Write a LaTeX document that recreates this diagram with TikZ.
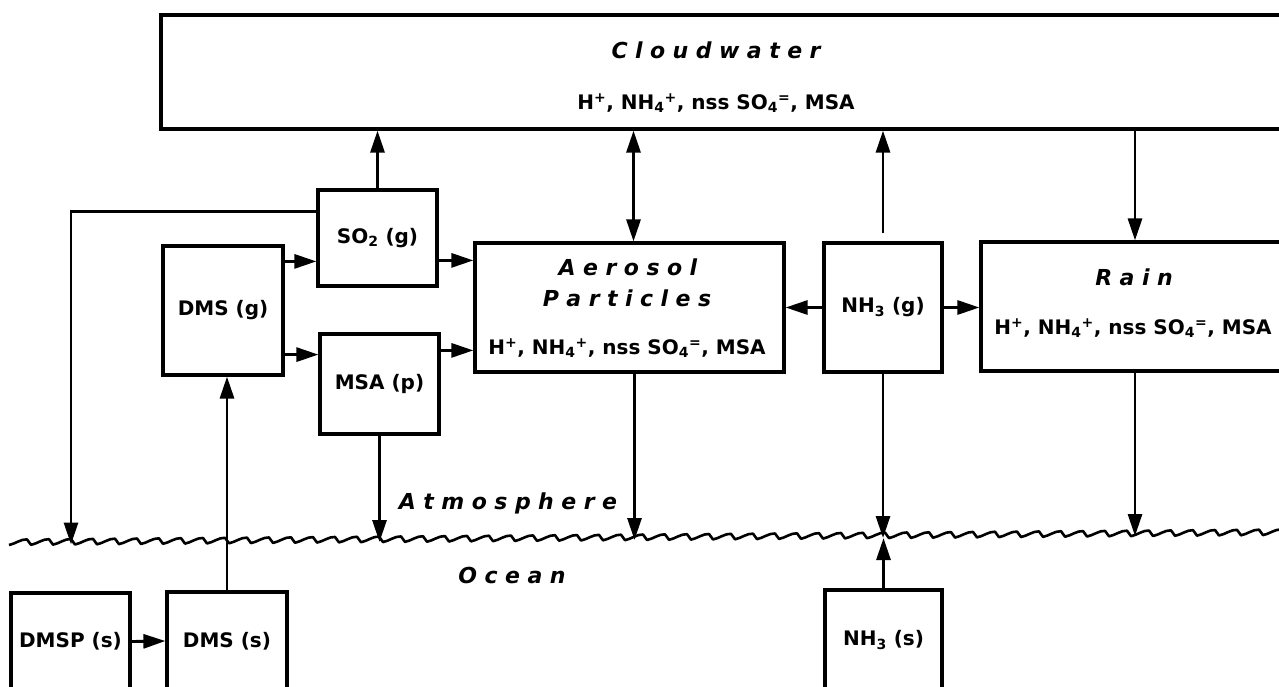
\documentclass[tikz,border=0pt]{standalone}
\usepackage{fontspec}
\setmainfont{DejaVu Sans}
\usetikzlibrary{arrows.meta,calc}
\makeatletter
\newcommand\spacedtxt[1]{\spc@first#1\relax}
\def\spc@first#1{#1\spc@rest}
\def\spc@rest#1{\ifx#1\relax\else\kern0.34em#1\expandafter\spc@rest\fi}
\makeatother
\newcommand\ions{H\textsuperscript{+}, NH\textsubscript{4}\textsuperscript{+}, nss SO\textsubscript{4}\textsuperscript{=}, MSA}
\tikzset{
  boxnode/.style={draw, line width=3.2pt, inner sep=0pt, align=center,
    font=\bfseries\fontsize{20}{24}\selectfont},
  lbl/.style={inner sep=0pt, font=\bfseries\fontsize{20}{24}\selectfont},
  head/.style={inner sep=0pt, font=\bfseries\itshape\fontsize{22}{26}\selectfont},
  conn/.style={line width=2.9pt, -{Triangle[length=22pt,width=14pt]}},
  dconn/.style={line width=2.9pt, {Triangle[length=22pt,width=14pt]}-{Triangle[length=22pt,width=14pt]}},
}
\begin{document}
\begin{tikzpicture}[x=1pt,y=-1pt]
\useasboundingbox (0,0) rectangle (1279,686);
\clip (0,0) rectangle (1279,686);
\fill[white] (0,0) rectangle (1279,686);

% boxes
\node[boxnode, minimum width=1149pt, minimum height=114pt] (cloud) at (735.5,72) {};
\node[head] (cloudt) at (716,50) {\spacedtxt{Cloudwater}};
\node[lbl] (cloudi) at (716,103) {\ions};

\node[boxnode, minimum width=119pt, minimum height=96pt] (so2) at (377.5,238) {SO\textsubscript{2} (g)};
\node[boxnode, minimum width=120pt, minimum height=129pt] (dmsg) at (223,310.5) {DMS (g)};
\node[boxnode, minimum width=119pt, minimum height=100pt] (msa) at (379.5,384) {MSA (p)};

\node[boxnode, minimum width=309pt, minimum height=129pt] (aer) at (629.5,307.5) {};
\node[head] (aert1) at (628,267) {\spacedtxt{Aerosol}};
\node[head] (aert2) at (627,298) {\spacedtxt{Particles}};
\node[lbl] (aeri) at (627,348) {\ions};

\node[boxnode, minimum width=118pt, minimum height=129pt] (nh3g) at (883,307.5) {NH\textsubscript{3} (g)};

\node[boxnode, minimum width=308pt, minimum height=129pt] (rain) at (1135,306.5) {};
\node[head] (raint) at (1134,277) {\spacedtxt{Rain}};
\node[lbl] (raini) at (1133,328) {\ions};

\node[boxnode, minimum width=119pt, minimum height=97pt] (dmsp) at (70.5,641.5) {DMSP (s)};
\node[boxnode, minimum width=120pt, minimum height=98pt] (dmss) at (227,641) {DMS (s)};
\node[boxnode, minimum width=117pt, minimum height=100pt] (nh3s) at (883.5,640) {NH\textsubscript{3} (s)};

\node[head] (atm) at (508,503) {\spacedtxt{Atmosphere}};
\node[head] (ocean) at (512,575) {\spacedtxt{Ocean}};

% sea surface
\draw[line width=2.6pt, line join=round] (9,545)
  \foreach \i in {0,...,57} {
    .. controls ({9+22*\i+6},{545-0.00787*(22*\i+6)-1}) and ({9+22*\i+12},{545-0.00787*(22*\i+12)-6}) ..
    ({9+22*\i+18},{545-0.00787*(22*\i+18)-5.5})
    -- ({9+22*\i+22},{545-0.00787*(22*\i+22)})
  };

% points on the surface
\coordinate (wA) at (71,544.5);
\coordinate (wB) at (380,542);
\coordinate (wC) at (634.5,540);
\coordinate (wD) at (883,538);
\coordinate (wE) at (1135,536);

% connectors
\draw[conn] (so2.north) -- (so2.north |- cloud.south);
\coordinate (sl) at ($(so2.north west)+(0,23)$);
\draw[conn] (sl) -| (wA);

\coordinate (d1) at ($(dmsg.north east)+(0,17)$);
\draw[conn] (d1) -- (d1 -| so2.west);
\coordinate (d2) at ($(dmsg.south east)+(0,-22)$);
\draw[conn] (d2) -- (d2 -| msa.west);
\coordinate (s1) at ($(so2.north east)+(0,72)$);
\draw[conn] (s1) -- (s1 -| aer.west);
\coordinate (m1) at ($(msa.north east)+(0,18)$);
\draw[conn] (m1) -- (m1 -| aer.west);

\coordinate (a1) at ($(aer.north)+(4,0)$);
\draw[dconn] (a1) -- (a1 |- cloud.south);
\coordinate (a2) at ($(aer.south)+(5,0)$);
\draw[conn] (a2) -- (a2 |- wC);

\draw[conn] (nh3g.west) -- (nh3g.west -| aer.east);
\draw[conn] (nh3g.east) -- (nh3g.east -| rain.west);
\draw[conn, shorten <=8pt] (nh3g.north) -- (nh3g.north |- cloud.south);
\draw[conn] (cloud.south -| rain.north) -- (rain.north);

\draw[conn] (msa.south) -- (msa.south |- wB);
\draw[conn] (nh3g.south) -- (nh3g.south |- wD);
\draw[conn] (nh3s.north) -- (nh3s.north |- wD);
\draw[conn] (rain.south) -- (rain.south |- wE);

\draw[conn] (dmss.north) -- (dmss.north |- dmsg.south);
\draw[conn] (dmsp.east) -- (dmss.west);
\end{tikzpicture}
\end{document}
